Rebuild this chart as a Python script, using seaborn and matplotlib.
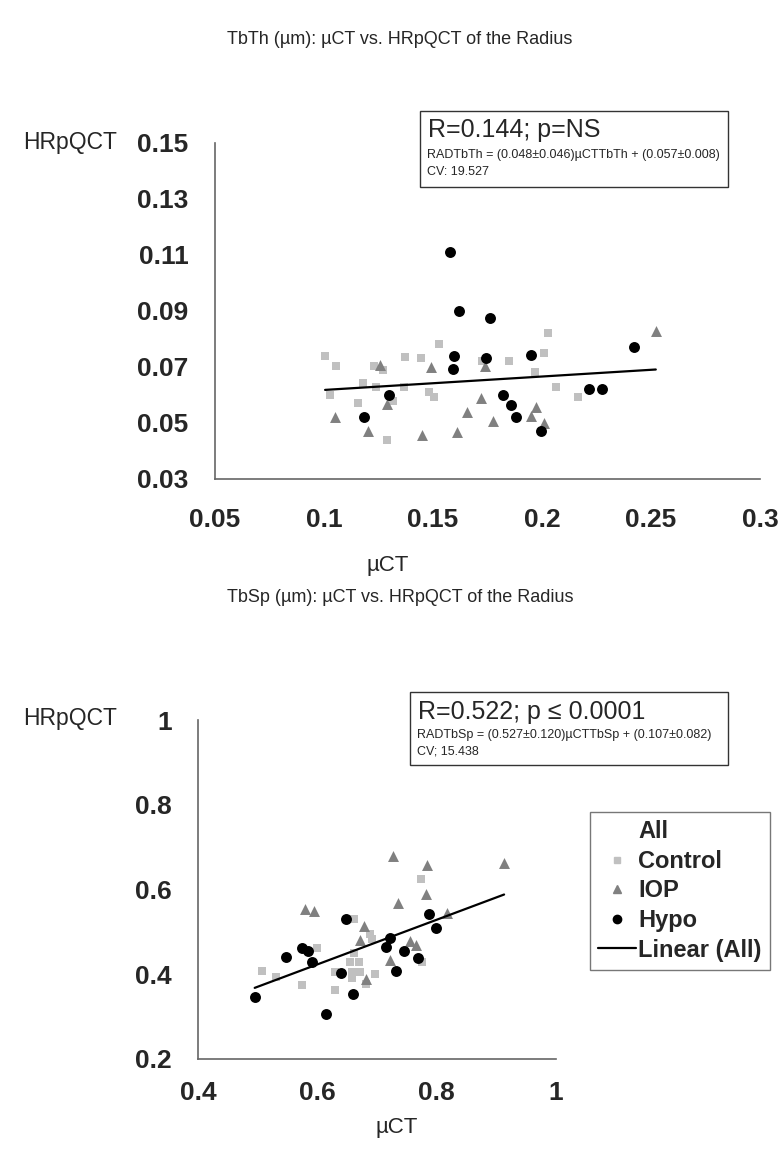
import matplotlib
matplotlib.use("Agg")
from matplotlib import pyplot as plt
from matplotlib.lines import Line2D
from matplotlib.patches import Rectangle
import pandas as pd
import seaborn as sns
import numpy as np

# ---- TbTh (top panel) ----
tbth_ctrl_x = [0.1005, 0.1055, 0.1028, 0.1155, 0.1177, 0.123, 0.124, 0.127, 0.1317, 0.129, 0.137, 0.1367,
               0.1447, 0.1529, 0.1482, 0.1505, 0.1727, 0.185, 0.1969, 0.201, 0.2029, 0.2066, 0.2163]
tbth_ctrl_y = [0.074, 0.0704, 0.060, 0.057, 0.0644, 0.0705, 0.063, 0.069, 0.058, 0.044, 0.0735, 0.063,
               0.0733, 0.0782, 0.0612, 0.0594, 0.072, 0.0721, 0.0681, 0.075, 0.082, 0.063, 0.0593]
tbth_iop_x = [0.105, 0.1257, 0.1288, 0.12, 0.1451, 0.149, 0.1608, 0.1657, 0.172, 0.174, 0.1773, 0.195,
              0.1973, 0.201, 0.2522]
tbth_iop_y = [0.052, 0.0707, 0.0568, 0.047, 0.0457, 0.070, 0.0469, 0.0538, 0.0588, 0.0705, 0.0507, 0.0526,
              0.0558, 0.0499, 0.0829]
tbth_hypo_x = [0.1183, 0.13, 0.158, 0.1596, 0.159, 0.162, 0.1742, 0.176, 0.182, 0.1858, 0.188, 0.195,
               0.1994, 0.2217, 0.2277, 0.2422]
tbth_hypo_y = [0.052, 0.060, 0.1112, 0.074, 0.0692, 0.090, 0.0733, 0.0874, 0.0601, 0.0563, 0.052, 0.0742,
               0.0473, 0.0623, 0.0623, 0.0771]
tbth_fit = (0.048, 0.057)  # slope, intercept

# ---- TbSp (bottom panel) ----
tbsp_ctrl_x = [0.507, 0.531, 0.574, 0.600, 0.630, 0.630, 0.662, 0.655, 0.669, 0.658, 0.672, 0.658, 0.682,
               0.697, 0.689, 0.692, 0.776, 0.661, 0.773]
tbsp_ctrl_y = [0.407, 0.394, 0.374, 0.463, 0.364, 0.406, 0.530, 0.430, 0.428, 0.406, 0.406, 0.390, 0.378,
               0.401, 0.496, 0.483, 0.428, 0.449, 0.624]
tbsp_iop_x = [0.580, 0.594, 0.679, 0.672, 0.682, 0.721, 0.755, 0.765, 0.818, 0.735, 0.726, 0.784, 0.913, 0.782]
tbsp_iop_y = [0.554, 0.550, 0.514, 0.481, 0.389, 0.433, 0.479, 0.469, 0.545, 0.567, 0.678, 0.658, 0.662, 0.589]
tbsp_hypo_x = [0.495, 0.615, 0.659, 0.639, 0.548, 0.574, 0.584, 0.591, 0.648, 0.715, 0.722, 0.732, 0.745,
               0.769, 0.787, 0.799]
tbsp_hypo_y = [0.347, 0.307, 0.354, 0.404, 0.441, 0.461, 0.455, 0.430, 0.530, 0.465, 0.485, 0.408, 0.455,
               0.439, 0.542, 0.510]
tbsp_fit = (0.527, 0.107)

groups = ["Control", "IOP", "Hypo"]
colors = {"Control": "#c0c0c0", "IOP": "#808080", "Hypo": "#000000"}
markers = {"Control": "s", "IOP": "^", "Hypo": "o"}
sizes = {"Control": 30, "IOP": 62, "Hypo": 62}


def make_df(cx, cy, ix, iy, hx, hy):
    parts = []
    for g, xs, ys in zip(groups, [cx, ix, hx], [cy, iy, hy]):
        parts.append(pd.DataFrame({"x": xs, "y": ys, "group": g}))
    return pd.concat(parts, ignore_index=True)


def draw_panel(ax, df, fit, xlim, ylim, xticks, yticks, xfmt, yfmt, xpad):
    for g in groups:
        sub = df[df.group == g]
        sns.scatterplot(ax=ax, data=sub, x="x", y="y", color=colors[g], marker=markers[g],
                        s=sizes[g], linewidth=0, legend=False, zorder=3)
    xs = np.array([df.x.min(), df.x.max()])
    sns.lineplot(ax=ax, x=xs, y=fit[0] * xs + fit[1], color="black", linewidth=1.6, zorder=4)
    ax.set_xlim(*xlim)
    ax.set_ylim(*ylim)
    ax.set_xticks(xticks)
    ax.set_yticks(yticks)
    ax.set_xticklabels([xfmt(v) for v in xticks])
    ax.set_yticklabels([yfmt(v) for v in yticks])
    ax.set(xlabel="", ylabel="")
    for s in ["top", "right"]:
        ax.spines[s].set_visible(False)
    for s in ["left", "bottom"]:
        ax.spines[s].set_color("#666666")
        ax.spines[s].set_linewidth(1.2)
    ax.tick_params(direction="out", length=7, width=1.2, color="#666666")
    ax.tick_params(axis="x", pad=xpad)
    ax.tick_params(axis="y", pad=12)
    for lab in ax.get_xticklabels() + ax.get_yticklabels():
        lab.set_fontweight("bold")
        lab.set_fontsize(19)


sns.set_style("white")
plt.rcParams["font.family"] = ["Liberation Sans", "DejaVu Sans"]

W, H = 781, 1151
fig = plt.figure(figsize=(W / 100, H / 100), dpi=100)


def fx(px):
    return px / W


def fy(py):
    return 1 - py / H


# top panel
ax1 = fig.add_axes([fx(215), fy(479), fx(760) - fx(215), fy(143) - fy(479)])
df1 = make_df(tbth_ctrl_x, tbth_ctrl_y, tbth_iop_x, tbth_iop_y, tbth_hypo_x, tbth_hypo_y)
draw_panel(ax1, df1, tbth_fit, (0.05, 0.3), (0.03, 0.15),
           [0.05, 0.1, 0.15, 0.2, 0.25, 0.3], [0.03, 0.05, 0.07, 0.09, 0.11, 0.13, 0.15],
           lambda v: "{:g}".format(v), lambda v: "{:.2f}".format(v), 14)

fig.text(fx(400), fy(40), "TbTh (µm): µCT vs. HRpQCT of the Radius", ha="center", va="center", fontsize=13)
fig.text(fx(23), fy(143), "HRpQCT", ha="left", va="center", fontsize=16.5)
fig.text(fx(388), fy(565), "µCT", ha="center", va="center", fontsize=16)

fig.patches.append(Rectangle((fx(420), fy(187)), fx(728) - fx(420), fy(111) - fy(187), transform=fig.transFigure,
                             fill=False, edgecolor="#333333", linewidth=1.0))
fig.text(fx(428), fy(130), "R=0.144; p=NS", ha="left", va="center", fontsize=18)
fig.text(fx(427), fy(155), "RADTbTh = (0.048±0.046)µCTTbTh + (0.057±0.008)", ha="left", va="center", fontsize=9)
fig.text(fx(427), fy(172), "CV: 19.527", ha="left", va="center", fontsize=9)

# bottom panel
ax2 = fig.add_axes([fx(198), fy(1059), fx(556) - fx(198), fy(720) - fy(1059)])
df2 = make_df(tbsp_ctrl_x, tbsp_ctrl_y, tbsp_iop_x, tbsp_iop_y, tbsp_hypo_x, tbsp_hypo_y)
draw_panel(ax2, df2, tbsp_fit, (0.4, 1.0), (0.2, 1.0),
           [0.4, 0.6, 0.8, 1.0], [0.2, 0.4, 0.6, 0.8, 1.0],
           lambda v: "{:g}".format(v), lambda v: "{:g}".format(v), 9)

fig.text(fx(400), fy(598), "TbSp (µm): µCT vs. HRpQCT of the Radius", ha="center", va="center", fontsize=13)
fig.text(fx(23), fy(718), "HRpQCT", ha="left", va="center", fontsize=16.5)
fig.text(fx(397), fy(1128), "µCT", ha="center", va="center", fontsize=16)

fig.patches.append(Rectangle((fx(410), fy(765)), fx(728) - fx(410), fy(692) - fy(765), transform=fig.transFigure,
                             fill=False, edgecolor="#333333", linewidth=1.0))
fig.text(fx(418), fy(712), "R=0.522; p \u2264 0.0001", ha="left", va="center", fontsize=18)
fig.text(fx(417), fy(735), "RADTbSp = (0.527±0.120)µCTTbSp + (0.107±0.082)", ha="left", va="center", fontsize=9)
fig.text(fx(417), fy(752), "CV; 15.438", ha="left", va="center", fontsize=9)

handles = [Line2D([], [], linestyle="none", marker=None),
           Line2D([], [], linestyle="none", marker="s", color=colors["Control"], markersize=5),
           Line2D([], [], linestyle="none", marker="^", color=colors["IOP"], markersize=6),
           Line2D([], [], linestyle="none", marker="o", color=colors["Hypo"], markersize=6),
           Line2D([], [], color="black", linewidth=1.6)]
leg = fig.legend(handles, ["All", "Control", "IOP", "Hypo", "Linear (All)"],
                 loc="upper left", bbox_to_anchor=(fx(590), fy(812)),
                 prop={"weight": "bold", "size": 17}, frameon=True, fancybox=False,
                 handlelength=1.6, handletextpad=0.1, labelspacing=0.28, borderpad=0.35, borderaxespad=0)
leg.get_frame().set_edgecolor("#555555")
leg.get_frame().set_linewidth(1.0)

plt.savefig("out.png", dpi=100)
